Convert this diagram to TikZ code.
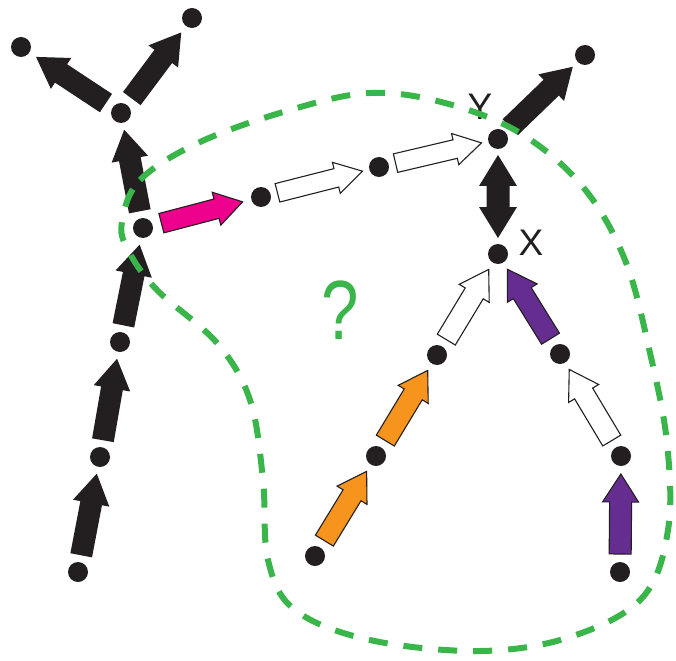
\documentclass[tikz,border=0pt]{standalone}
\usepackage{fontspec}
\setmainfont{Liberation Sans}
\usetikzlibrary{calc}
\definecolor{ink}{HTML}{231F20}
\definecolor{grn}{HTML}{39B54A}
\definecolor{mag}{HTML}{EC008C}
\definecolor{org}{HTML}{F7941D}
\definecolor{pur}{HTML}{662D91}
% #1 from, #2 to, #3 style, #4 shaft half width, #5 head half width, #6 head length, #7 gap
\newcommand\barr[7]{%
  \coordinate (bS) at ($(#1)!#7!(#2)$);
  \coordinate (bT) at ($(#2)!#7!(#1)$);
  \coordinate (bH) at ($(bT)!#6!(bS)$);
  \path[#3] ($(bS)!#4!90:(bT)$) -- ($(bH)!#4!90:(bT)$) -- ($(bH)!#5!90:(bT)$) -- (bT)
    -- ($(bH)!#5!-90:(bT)$) -- ($(bH)!#4!-90:(bT)$) -- ($(bS)!#4!-90:(bT)$) -- cycle;
}
\begin{document}
\begin{tikzpicture}[x=1pt,y=-1pt,
  dot/.style={circle,fill=ink,inner sep=0pt,minimum size=20pt},
  solidarr/.style={fill=ink},
  outarr/.style={draw=ink,line width=1.1pt,line join=miter},
  lbl/.style={inner sep=0pt,text=ink,font=\fontsize{37}{37}\selectfont},
  loop/.style={draw=grn,line width=6pt,dash pattern=on 19pt off 16pt}]
\useasboundingbox (0,0) rectangle (676,660);
% dots
\node[dot] (a0) at (78,572) {};
\node[dot] (a1) at (100,457) {};
\node[dot] (a2) at (120,342) {};
\node[dot] (a3) at (143,228) {};
\node[dot] (a4) at (121,113) {};
\node[dot] (tl) at (21,47) {};
\node[dot] (tr) at (192,18) {};
\node[dot] (p1) at (261,197) {};
\node[dot] (p2) at (379,167) {};
\node[dot] (y)  at (498,139) {};
\node[dot] (tr2) at (585,55) {};
\node[dot] (x)  at (498,254) {};
\node[dot] (o1) at (315,556) {};
\node[dot] (o2) at (376,456) {};
\node[dot] (o3) at (437,355) {};
\node[dot] (r1) at (620,572) {};
\node[dot] (r2) at (621,456) {};
\node[dot] (r3) at (560,354) {};
% labels
\node[lbl] (ly) at (480,107) {Y};
\node[lbl] (lx) at (531,243) {X};
\node[inner sep=0pt,text=grn,font=\fontsize{84}{84}\selectfont] (q) at (340,310) {\scalebox{0.8}[1]{?}};
% black arrows
\barr{a0}{a1}{solidarr}{11pt}{18.5pt}{30pt}{17pt}
\barr{a1}{a2}{solidarr}{11pt}{18.5pt}{30pt}{17pt}
\barr{a2}{a3}{solidarr}{11pt}{18.5pt}{30pt}{17pt}
\barr{a3}{a4}{solidarr}{11pt}{18.5pt}{30pt}{17pt}
\barr{a4}{tl}{solidarr}{11pt}{18.5pt}{30pt}{18pt}
\barr{a4}{tr}{solidarr}{11pt}{18.5pt}{30pt}{18pt}
\barr{y}{tr2}{solidarr}{11pt}{18.5pt}{30pt}{17pt}
% double arrow
\coordinate (d1) at ($(y)!16pt!(x)$);
\coordinate (d2) at ($(x)!16pt!(y)$);
\coordinate (h1) at ($(d1)!31pt!(d2)$);
\coordinate (h2) at ($(d2)!31pt!(d1)$);
\fill[ink] (d1) -- ($(h1)!19pt!90:(d2)$) -- ($(h1)!11.5pt!90:(d2)$) -- ($(h2)!11.5pt!-90:(d1)$)
  -- ($(h2)!19pt!-90:(d1)$) -- (d2) -- ($(h2)!19pt!90:(d1)$) -- ($(h2)!11.5pt!90:(d1)$)
  -- ($(h1)!11.5pt!-90:(d2)$) -- ($(h1)!19pt!-90:(d2)$) -- cycle;
% coloured / outlined arrows
\barr{a3}{p1}{outarr,fill=mag}{10pt}{17pt}{27pt}{19pt}
\barr{p1}{p2}{outarr,fill=white}{9.5pt}{16pt}{27pt}{17pt}
\barr{p2}{y}{outarr,fill=white}{9.5pt}{16pt}{27pt}{17pt}
\barr{o1}{o2}{outarr,fill=org}{10.5pt}{17.5pt}{28pt}{18pt}
\barr{o2}{o3}{outarr,fill=org}{10.5pt}{17.5pt}{28pt}{18pt}
\barr{o3}{x}{outarr,fill=white}{10.5pt}{17.5pt}{28pt}{18pt}
\barr{r1}{r2}{outarr,fill=pur}{11pt}{18pt}{28pt}{18pt}
\barr{r2}{r3}{outarr,fill=white}{10.5pt}{17.5pt}{28pt}{18pt}
\barr{r3}{x}{outarr,fill=pur}{10.5pt}{17.5pt}{28pt}{18pt}
% green dashed region
\draw[loop] plot[smooth cycle,tension=0.6] coordinates {
  (122,222) (140,180) (200,142) (290,110) (370,93) (445,103) (520,133) (583,187)
  (625,260) (650,353) (667,443) (668,530) (642,598) (570,637) (480,651) (370,640)
  (295,610) (268,560) (263,480) (250,400) (217,343) (157,290) (128,250)};
\end{tikzpicture}
\end{document}
